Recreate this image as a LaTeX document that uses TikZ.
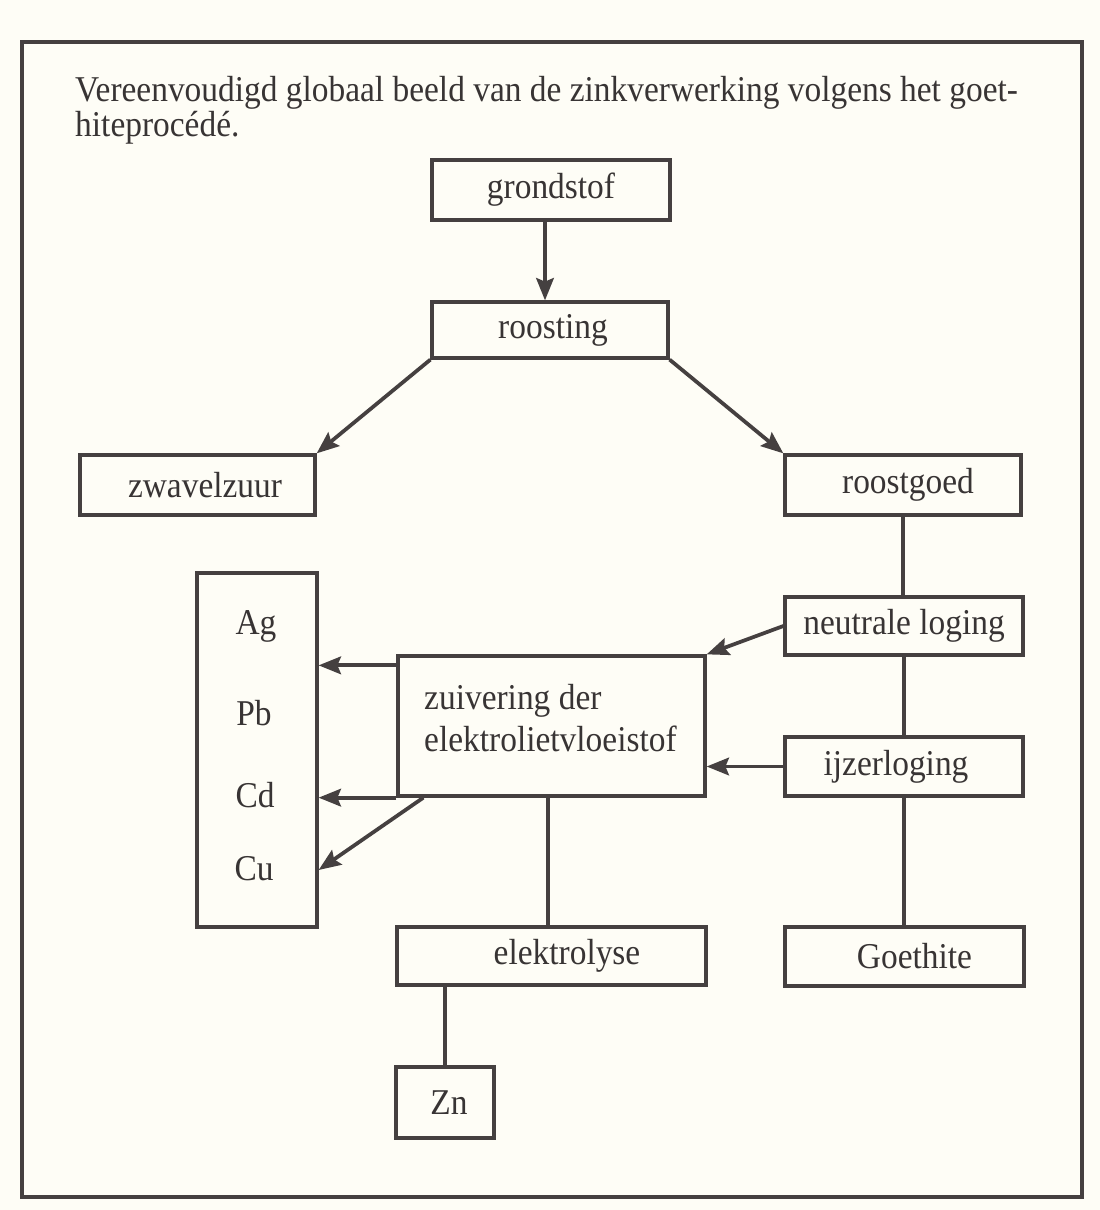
\documentclass[tikz,border=0pt]{standalone}
\usepackage{fontspec}
\setmainfont{Liberation Serif}[FakeStretch=0.92]
\usetikzlibrary{arrows.meta,calc}
\definecolor{ink}{HTML}{454040}
\definecolor{txt}{HTML}{383434}
\definecolor{paper}{HTML}{FEFDF6}
\tikzset{
  box/.style={draw=ink, line width=2.8pt, inner sep=0pt, text=txt, font=\fontsize{31}{36}\selectfont},
  conn/.style={draw=ink, line width=3.2pt},
  arr/.style={conn, -{Stealth[length=19pt,width=15pt,inset=3pt]}},
  lbl/.style={text=txt, font=\fontsize{31}{30}\selectfont, inner sep=0pt}
}
\begin{document}
\begin{tikzpicture}[x=0.03cm,y=-0.03cm]
\fill[paper] (0,0) rectangle (1100,1210);
\useasboundingbox (0,0) rectangle (1100,1210);
\draw[ink, line width=2.8pt] (22,42) rectangle (1082,1197);
\node[lbl, anchor=base west, align=left] (title) at (75,137)
  {Vereenvoudigd globaal beeld van de zinkverwerking volgens het goet-\\hiteprocédé.};
\node[box, minimum width=7.14cm, minimum height=1.8cm] (grond) at (551,190) {grondstof};
\node[box, minimum width=7.08cm, minimum height=1.68cm] (roost) at (550,330) {\hspace*{0.18cm}roosting};
\node[box, minimum width=7.05cm, minimum height=1.8cm] (zwavel) at (197.5,485) {\hspace*{0.45cm}zwavelzuur};
\node[box, minimum width=7.08cm, minimum height=1.8cm] (rgoed) at (903,485) {\hspace*{0.3cm}roostgoed};
\node[box, minimum width=7.14cm, minimum height=1.74cm] (neutr) at (904,626) {neutrale loging};
\node[box, minimum width=7.14cm, minimum height=1.77cm] (ijzer) at (904,766.5) {\hspace*{-0.48cm}ijzerloging};
\node[box, minimum width=7.17cm, minimum height=1.77cm] (goeth) at (904.5,956.5) {\hspace*{0.6cm}Goethite};
\node[box, minimum width=9.21cm, minimum height=4.2cm] (zuiv) at (551.5,726) {};
\node[lbl, anchor=base west, align=left, font=\fontsize{31}{35.7}\selectfont] (zuivtxt) at (424,751)
  {zuivering der\\elektrolietvloeistof};
\node[box, minimum width=3.6cm, minimum height=10.62cm] (metal) at (257,750) {};
\node[box, minimum width=9.27cm, minimum height=1.74cm] (elek) at (551.5,956) {\hspace*{0.93cm}elektrolyse};
\node[box, minimum width=2.94cm, minimum height=2.13cm] (zn) at (445,1102.5) {\hspace*{0.24cm}Zn};
\node[lbl] (ag) at (256,626) {Ag};
\node[lbl] (pb) at (254,713) {Pb};
\node[lbl] (cd) at (255,795) {Cd};
\node[lbl] (cu) at (254,869) {Cu};
% connectors
\coordinate (g1) at ($(grond.south)+(-6,0)$);
\draw[arr] (g1) -- (g1 |- roost.north);
\draw[arr] (roost.south west) -- (zwavel.north east);
\draw[arr] (roost.south east) -- (rgoed.north west);
\draw[conn] (rgoed.south) -- (rgoed.south |- neutr.north);
\draw[conn] (neutr.south) -- (ijzer.north);
\draw[conn] (ijzer.south) -- (ijzer.south |- goeth.north);
\draw[arr] (neutr.west) -- (zuiv.north east);
\draw[arr] (ijzer.west) -- (zuiv.east |- ijzer.west);
\coordinate (z1) at ($(zuiv.north west)+(0,11)$);
\draw[arr] (z1) -- (metal.east |- z1);
\draw[arr] (zuiv.south west) -- (metal.east |- zuiv.south west);
\coordinate (z2) at ($(zuiv.south west)+(27,0)$);
\coordinate (m2) at ($(metal.east)+(0,120)$);
\draw[arr] (z2) -- (m2);
\coordinate (z3) at ($(zuiv.south)+(-3.5,0)$);
\draw[conn] (z3) -- (z3 |- elek.north);
\coordinate (e1) at (zn.north |- elek.south);
\draw[conn] (e1) -- (zn.north);
\end{tikzpicture}
\end{document}
